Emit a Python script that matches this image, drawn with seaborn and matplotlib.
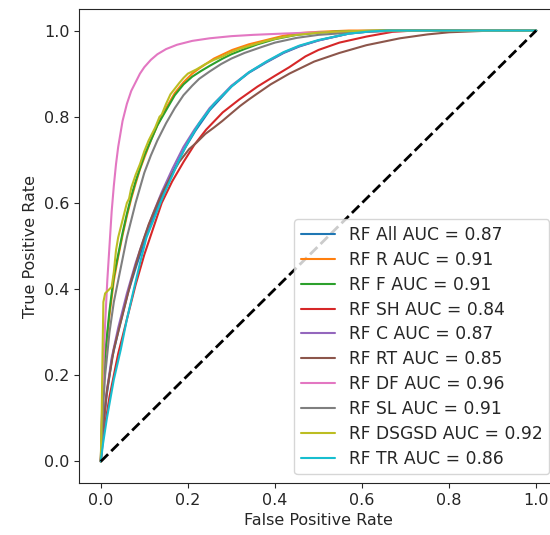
import matplotlib
matplotlib.use('Agg')

import matplotlib.pyplot as plt
import pandas as pd
import seaborn as sns

# ROC points (fpr, tpr) per model
labels = ["RF All AUC = 0.87", "RF R AUC = 0.91", "RF F AUC = 0.91", "RF SH AUC = 0.84",
          "RF C AUC = 0.87", "RF RT AUC = 0.85", "RF DF AUC = 0.96", "RF SL AUC = 0.91",
          "RF DSGSD AUC = 0.92", "RF TR AUC = 0.86"]

fpr_all = [0, 0.005, 0.013, 0.026, 0.042, 0.062, 0.082, 0.102, 0.122, 0.142, 0.167, 0.192, 0.217,
           0.25, 0.3, 0.34, 0.38, 0.42, 0.456, 0.5, 0.57, 0.62, 0.66, 1]
tpr_all = [0, 0.07, 0.15, 0.24, 0.31, 0.39, 0.455, 0.515, 0.57, 0.62, 0.675, 0.725, 0.767,
           0.815, 0.87, 0.902, 0.926, 0.948, 0.963, 0.977, 0.993, 0.998, 1, 1]

fpr_r = [0, 0.004, 0.01, 0.02, 0.03, 0.04, 0.05, 0.06, 0.07, 0.08, 0.09, 0.1, 0.115, 0.13, 0.15,
         0.17, 0.19, 0.21, 0.226, 0.26, 0.302, 0.34, 0.38, 0.42, 0.456, 0.5, 0.57, 1]
tpr_r = [0, 0.13, 0.24, 0.34, 0.42, 0.475, 0.525, 0.57, 0.61, 0.645, 0.678, 0.705, 0.745, 0.78, 0.82,
         0.855, 0.88, 0.9, 0.912, 0.935, 0.955, 0.968, 0.978, 0.988, 0.994, 0.997, 1, 1]

fpr_f = [0, 0.004, 0.01, 0.02, 0.03, 0.04, 0.05, 0.06, 0.07, 0.08, 0.09, 0.1, 0.115, 0.13, 0.15,
         0.17, 0.19, 0.21, 0.23, 0.25, 0.28, 0.3, 0.33, 0.36, 0.4, 0.45, 0.5, 0.55, 0.65, 1]
tpr_f = [0, 0.15, 0.25, 0.35, 0.43, 0.48, 0.53, 0.575, 0.615, 0.65, 0.68, 0.71, 0.745, 0.78, 0.815,
         0.85, 0.875, 0.893, 0.906, 0.918, 0.935, 0.945, 0.957, 0.968, 0.98, 0.99, 0.995, 0.998, 1, 1]

fpr_sh = [0, 0.006, 0.02, 0.04, 0.06, 0.08, 0.1, 0.12, 0.14, 0.164, 0.19, 0.215, 0.242, 0.28, 0.318,
          0.36, 0.4, 0.433, 0.47, 0.5, 0.548, 0.61, 0.67, 0.72, 1]
tpr_sh = [0, 0.06, 0.15, 0.25, 0.33, 0.41, 0.48, 0.54, 0.6, 0.65, 0.695, 0.735, 0.77, 0.81, 0.84,
          0.87, 0.895, 0.915, 0.94, 0.955, 0.972, 0.986, 0.997, 1, 1]

fpr_c = [0, 0.004, 0.012, 0.025, 0.04, 0.06, 0.08, 0.1, 0.12, 0.14, 0.165, 0.19, 0.215, 0.25, 0.3,
         0.34, 0.38, 0.42, 0.456, 0.5, 0.57, 0.62, 0.66, 1]
tpr_c = [0, 0.07, 0.15, 0.24, 0.31, 0.39, 0.46, 0.52, 0.575, 0.625, 0.68, 0.73, 0.77, 0.82, 0.872,
         0.903, 0.927, 0.949, 0.964, 0.977, 0.993, 0.998, 1, 1]

fpr_rt = [0, 0.005, 0.015, 0.03, 0.05, 0.07, 0.09, 0.11, 0.135, 0.16, 0.18, 0.203, 0.22, 0.24, 0.26,
          0.279, 0.3, 0.32, 0.34, 0.357, 0.39, 0.433, 0.49, 0.548, 0.61, 0.687, 0.75, 0.8, 0.85, 0.9, 1]
tpr_rt = [0, 0.08, 0.17, 0.26, 0.34, 0.42, 0.49, 0.55, 0.61, 0.66, 0.695, 0.725, 0.74, 0.76, 0.775,
          0.79, 0.808, 0.825, 0.84, 0.852, 0.875, 0.9, 0.928, 0.948, 0.966, 0.982, 0.991, 0.996, 0.998, 1, 1]

fpr_df = [0, 0.003, 0.006, 0.01, 0.015, 0.02, 0.025, 0.03, 0.035, 0.04, 0.05, 0.06, 0.07, 0.08, 0.09,
          0.1, 0.115, 0.13, 0.15, 0.175, 0.21, 0.25, 0.3, 0.35, 0.42, 0.5, 0.6, 0.7, 1]
tpr_df = [0, 0.12, 0.22, 0.32, 0.42, 0.5, 0.58, 0.64, 0.69, 0.73, 0.79, 0.83, 0.86, 0.88, 0.9,
          0.915, 0.932, 0.945, 0.957, 0.967, 0.976, 0.982, 0.987, 0.99, 0.993, 0.996, 0.998, 0.999, 1]

fpr_sl = [0, 0.005, 0.01, 0.02, 0.03, 0.04, 0.05, 0.06, 0.07, 0.08, 0.09, 0.1, 0.115, 0.13, 0.15,
          0.17, 0.19, 0.21, 0.226, 0.25, 0.276, 0.3, 0.33, 0.37, 0.4, 0.45, 0.5, 0.6, 0.7, 1]
tpr_sl = [0, 0.12, 0.2, 0.3, 0.37, 0.42, 0.47, 0.52, 0.56, 0.6, 0.635, 0.67, 0.71, 0.745, 0.785,
          0.82, 0.85, 0.872, 0.888, 0.905, 0.922, 0.935, 0.948, 0.962, 0.972, 0.983, 0.99, 0.997, 1, 1]

fpr_dsgsd = [0, 0.002, 0.004, 0.006, 0.01, 0.025, 0.03, 0.035, 0.04, 0.05, 0.06, 0.065, 0.07, 0.08,
             0.09, 0.1, 0.11, 0.115, 0.125, 0.135, 0.14, 0.15, 0.16, 0.17, 0.18, 0.19, 0.2, 0.22,
             0.24, 0.26, 0.28, 0.3, 0.32, 0.35, 0.38, 0.42, 0.45, 0.5, 0.55, 0.65, 1]
tpr_dsgsd = [0, 0.1, 0.25, 0.37, 0.39, 0.405, 0.44, 0.49, 0.52, 0.56, 0.6, 0.61, 0.635, 0.665,
             0.69, 0.72, 0.745, 0.755, 0.775, 0.8, 0.805, 0.83, 0.852, 0.865, 0.878, 0.89, 0.9, 0.91,
             0.922, 0.932, 0.94, 0.95, 0.958, 0.967, 0.976, 0.985, 0.99, 0.995, 0.998, 1, 1]

fpr_tr = [0, 0.005, 0.014, 0.03, 0.046, 0.06, 0.076, 0.09, 0.105, 0.125, 0.145, 0.165, 0.18, 0.2,
          0.226, 0.26, 0.302, 0.34, 0.38, 0.42, 0.456, 0.5, 0.57, 0.62, 0.66, 1]
tpr_tr = [0, 0.04, 0.1, 0.19, 0.26, 0.33, 0.4, 0.46, 0.52, 0.57, 0.62, 0.665, 0.7, 0.74,
          0.785, 0.83, 0.872, 0.903, 0.928, 0.95, 0.965, 0.978, 0.993, 0.998, 1, 1]

curves = [(fpr_all, tpr_all), (fpr_r, tpr_r), (fpr_f, tpr_f), (fpr_sh, tpr_sh), (fpr_c, tpr_c),
          (fpr_rt, tpr_rt), (fpr_df, tpr_df), (fpr_sl, tpr_sl), (fpr_dsgsd, tpr_dsgsd), (fpr_tr, tpr_tr)]

# long-form table for seaborn
rows = []
for label, (fx, ty) in zip(labels, curves):
    for a, b in zip(fx, ty):
        rows.append({"model": label, "fpr": a, "tpr": b})
df = pd.DataFrame(rows)

sns.set_style("ticks")
plt.rcParams['font.family'] = ['DejaVu Sans']

fig = plt.figure(figsize=(5.5, 5.35), dpi=100)
# axes runs a little past the right edge, like the cropped original
ax = fig.add_axes([79 / 550, 52 / 535, 479 / 550, 474 / 535])

sns.lineplot(data=df, x="fpr", y="tpr", hue="model", hue_order=labels, palette="tab10",
             sort=False, estimator=None, linewidth=1.5, ax=ax)
ax.plot([0, 1], [0, 1], 'k--', linewidth=2)

ax.set_xlim(-0.05, 1.05)
ax.set_ylim(-0.05, 1.05)
ax.set_xticks([0, 0.2, 0.4, 0.6, 0.8, 1.0])
ax.set_yticks([0, 0.2, 0.4, 0.6, 0.8, 1.0])
ax.set_xlabel("False Positive Rate", fontsize=11.5)
ax.set_ylabel("True Positive Rate", fontsize=11.5)
ax.tick_params(labelsize=11.5)

handles, lbls = ax.get_legend_handles_labels()
ax.legend(handles[:10], lbls[:10], loc="lower right", fontsize=12.3, labelspacing=0.4, title=None)

fig.savefig("out.png", dpi=100)
plt.close(fig)
